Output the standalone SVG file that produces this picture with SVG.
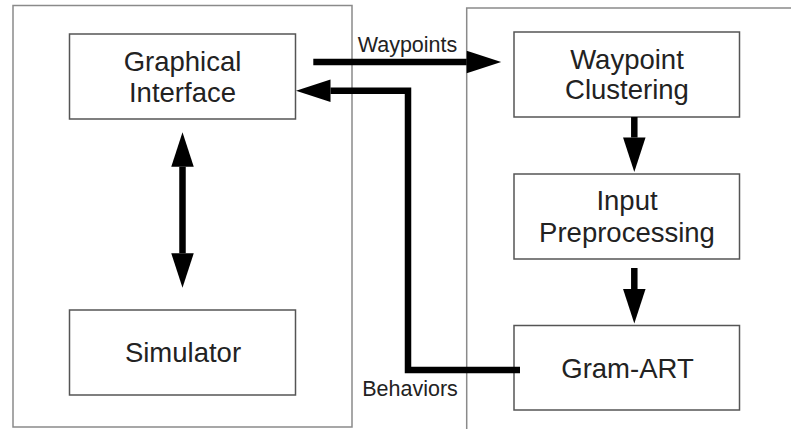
<svg xmlns="http://www.w3.org/2000/svg" width="791" height="429" viewBox="0 0 791 429">
<style>
.outer{fill:none;stroke:#8a8a8a;stroke-width:1.5}
.box{fill:#fff;stroke:#555;stroke-width:1.5}
.t{font-family:"Liberation Sans",Arial,sans-serif;font-size:27.5px;fill:#222;text-anchor:middle}
.lbl{font-family:"Liberation Sans",Arial,sans-serif;font-size:21.5px;fill:#222;text-anchor:middle}
.c{fill:none;stroke:#000;stroke-width:6.5;stroke-linejoin:miter}
</style>
<defs>
<marker id="ah" markerUnits="userSpaceOnUse" markerWidth="35" markerHeight="23" refX="0" refY="11.25" orient="auto-start-reverse" overflow="visible">
<path d="M0,0 L34.5,11.25 L0,22.5 z" fill="#000"/>
</marker>
</defs>
<g id="left-panel"><rect class="outer" x="13" y="5.5" width="339" height="421.5"/></g>
<g id="right-panel"><rect class="outer" x="466.7" y="8" width="340" height="440"/></g>
<g id="graphical-interface">
<rect class="box" x="69.5" y="34" width="226" height="85"/>
<text class="t" x="182.5" y="71">Graphical</text>
<text class="t" x="182.5" y="101.5">Interface</text>
</g>
<g id="simulator">
<rect class="box" x="69.5" y="310" width="226" height="85"/>
<text class="t" x="183" y="362">Simulator</text>
</g>
<g id="waypoint-clustering">
<rect class="box" x="514" y="32" width="225.5" height="85"/>
<text class="t" x="627" y="68.5">Waypoint</text>
<text class="t" x="627" y="99">Clustering</text>
</g>
<g id="input-preprocessing">
<rect class="box" x="514" y="174" width="225.5" height="85"/>
<text class="t" x="627" y="210">Input</text>
<text class="t" x="627" y="241.5">Preprocessing</text>
</g>
<g id="gram-art">
<rect class="box" x="514" y="325.5" width="225.5" height="84.5"/>
<text class="t" x="627.5" y="377.5">Gram-ART</text>
</g>
<g id="connectors">
<path class="c" d="M313.3,62 H466.7" marker-end="url(#ah)"/>
<path class="c" d="M520,370 H408 V90.8 H330.5" marker-end="url(#ah)"/>
<path class="c" d="M182.5,166.7 V253.3" marker-start="url(#ah)" marker-end="url(#ah)"/>
<path class="c" d="M634.3,117 V137.5" marker-end="url(#ah)"/>
<path class="c" d="M634.3,268 V289" marker-end="url(#ah)"/>
<text class="lbl" x="407.5" y="51.5">Waypoints</text>
<text class="lbl" x="410" y="396">Behaviors</text>
</g>
</svg>
